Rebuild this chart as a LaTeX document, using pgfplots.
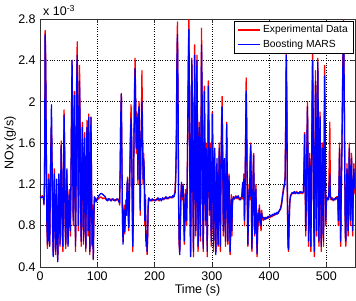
\documentclass[border=0pt]{standalone}
\usepackage{fontspec}
\setmainfont{Liberation Sans}
\usepackage{pgfplots}
\usepackage{pgfplotstable}
\pgfplotsset{compat=1.18}
\pgfplotstableread{
t e m
0 1.08 1.08
2 1.08 1.07
4 1.09 1.08
6 1.07 1.07
7 1.00 1.01
8 1.30 1.25
9 2.69 2.65
10 2.40 2.35
11 1.50 1.55
12 0.80 0.85
13 0.58 0.62
14 0.70 0.66
15 1.30 1.25
16 0.90 0.95
17 0.62 0.60
18 1.10 1.15
19 1.60 1.55
20 1.77 1.97
21 1.40 1.50
22 0.75 0.80
23 0.55 0.50
24 1.00 1.05
25 1.35 1.30
26 0.95 0.90
27 0.52 0.55
28 0.90 0.85
29 1.20 1.25
30 0.70 0.65
31 0.47 0.45
32 0.80 0.85
33 1.25 1.30
34 1.10 1.05
35 0.60 0.62
36 1.00 1.10
37 1.62 1.58
38 1.20 1.25
39 0.70 0.72
40 0.55 0.60
41 1.20 1.15
42 1.92 1.87
43 1.50 1.55
44 0.75 0.80
45 0.58 0.62
46 0.95 0.90
47 1.30 1.35
48 0.85 0.90
49 0.62 0.60
50 0.95 1.00
51 1.15 1.10
52 0.90 0.85
53 0.70 0.75
54 1.10 1.20
55 1.90 1.85
56 2.40 2.40
57 1.50 1.45
58 0.80 0.85
59 1.40 1.35
60 2.10 2.06
61 1.30 1.35
62 0.55 0.60
63 1.20 1.15
64 2.20 2.10
65 2.58 2.45
66 1.60 1.70
67 0.75 0.80
68 1.60 1.55
69 2.35 2.20
70 1.80 1.75
71 0.90 0.95
72 0.60 0.65
73 1.40 1.35
74 1.80 1.75
75 1.20 1.25
76 0.62 0.65
77 1.30 1.35
78 1.70 1.65
79 1.00 1.05
80 0.55 0.58
81 1.20 1.25
82 1.82 1.75
83 1.40 1.45
84 0.70 0.75
85 1.88 1.85
86 1.30 1.35
87 0.52 0.55
88 1.20 1.25
89 1.85 1.85
90 1.20 1.15
91 0.60 0.62
92 1.00 0.95
93 0.47 0.48
94 0.80 0.85
95 1.05 1.08
96 1.03 1.05
97 1.07 1.06
98 1.04 1.03
100 1.05 1.06
102 1.06 1.08
104 1.07 1.10
106 1.08 1.11
108 1.07 1.11
110 1.06 1.10
112 1.07 1.09
114 1.06 1.08
116 1.05 1.05
118 1.06 1.04
120 1.05 1.06
122 1.06 1.05
124 1.04 1.04
126 1.05 1.06
128 1.06 1.05
130 1.05 1.04
132 1.04 1.05
134 1.05 1.06
136 1.06 1.05
138 1.04 1.03
139 1.00 1.02
140 1.30 1.35
141 1.85 1.84
142 2.08 2.07
143 1.40 1.50
144 0.85 0.90
145 0.65 0.62
146 0.80 0.85
147 1.00 0.95
148 0.72 0.74
149 0.90 0.95
150 1.05 1.00
151 0.95 0.90
152 1.15 1.20
153 1.27 1.25
154 0.90 0.95
155 0.75 0.78
156 1.00 1.05
157 1.40 1.35
158 1.70 1.65
159 1.97 1.84
160 1.60 1.65
161 1.00 1.10
162 0.55 0.60
163 0.90 0.95
164 1.60 1.55
165 2.10 2.05
166 2.42 2.32
167 2.00 2.00
168 1.50 1.55
169 1.90 1.85
170 1.75 1.80
171 1.20 1.25
172 1.85 1.90
173 2.00 1.95
174 1.40 1.45
175 0.90 0.95
176 1.50 1.55
177 1.80 1.70
178 2.30 2.00
179 1.70 1.65
180 1.20 1.25
181 1.50 1.45
182 1.30 1.35
183 0.80 0.85
184 1.10 1.05
185 0.60 0.65
186 0.75 0.70
187 0.52 0.55
188 0.70 0.72
189 1.00 1.05
190 1.05 1.07
192 1.04 1.05
194 1.05 1.04
196 1.04 1.06
198 1.05 1.05
200 1.05 1.04
202 1.04 1.05
204 1.06 1.05
206 1.05 1.07
208 1.04 1.05
210 1.06 1.06
212 1.05 1.04
214 1.06 1.07
216 1.05 1.06
218 1.07 1.06
220 1.06 1.08
222 1.07 1.06
224 1.06 1.07
226 1.08 1.07
228 1.07 1.08
230 1.08 1.07
232 1.07 1.09
234 1.09 1.08
236 1.15 1.12
237 1.30 1.25
238 1.60 1.55
239 2.40 2.30
240 2.77 2.65
241 2.00 2.10
242 1.00 1.10
243 0.60 0.65
244 0.55 0.52
245 0.80 0.75
246 1.10 1.05
247 1.20 1.22
248 1.10 1.15
249 1.05 1.08
250 1.20 1.18
251 0.90 0.95
252 0.62 0.65
253 0.90 0.85
254 1.15 1.10
255 1.05 1.08
256 0.80 0.85
257 1.20 1.15
258 1.80 1.75
259 2.40 2.35
260 2.80 2.70
261 1.90 2.00
262 0.90 1.00
263 0.55 0.50
264 1.30 1.25
265 2.42 2.40
266 2.00 2.05
267 1.00 1.10
268 0.50 0.55
269 1.40 1.35
270 2.55 2.45
271 1.80 1.85
272 0.70 0.75
273 1.20 1.25
274 2.45 2.40
275 1.60 1.70
276 0.55 0.60
277 1.00 1.05
278 1.80 1.75
279 1.30 1.35
280 0.65 0.70
281 1.50 1.45
282 2.71 2.55
283 2.00 2.10
284 1.00 1.05
285 0.55 0.58
286 1.30 1.25
287 2.15 2.10
288 1.50 1.55
289 0.80 0.85
290 1.60 1.55
291 1.20 1.25
292 0.50 0.55
293 1.40 1.35
294 2.20 2.15
295 1.70 1.75
296 0.90 0.95
297 1.60 1.55
298 1.20 1.25
299 0.60 0.65
300 1.30 1.25
301 1.90 1.88
302 1.30 1.35
303 0.55 0.60
304 1.20 1.15
305 1.50 1.55
306 0.90 0.95
307 0.55 0.52
308 1.10 1.05
309 1.40 1.45
310 0.80 0.85
311 0.60 0.62
312 1.20 1.15
313 1.60 1.55
314 1.00 1.05
315 0.55 0.60
316 1.30 1.25
317 1.80 1.75
318 2.05 1.95
319 1.40 1.50
320 0.70 0.75
321 1.10 1.05
322 1.40 1.45
323 0.90 0.95
324 0.60 0.65
325 1.30 1.25
326 1.80 1.78
327 1.20 1.25
328 0.62 0.65
329 1.00 1.05
330 1.30 1.28
331 0.90 0.95
332 0.52 0.55
333 0.80 0.85
334 1.10 1.05
335 0.70 0.75
336 1.00 1.05
337 1.08 1.06
338 1.05 1.08
340 1.07 1.06
342 1.09 1.08
344 1.06 1.07
346 1.08 1.09
348 1.05 1.06
350 1.07 1.05
352 1.06 1.08
353 1.15 1.12
354 1.20 1.22
355 1.05 1.08
356 1.30 1.25
357 0.80 0.85
358 1.10 1.15
359 1.60 1.65
360 2.23 2.10
361 1.70 1.75
362 1.00 1.05
363 0.60 0.62
364 0.90 0.95
365 1.20 1.15
366 1.05 1.08
367 1.40 1.45
368 1.60 1.58
369 1.10 1.15
370 0.55 0.58
371 0.80 0.85
372 1.30 1.25
373 1.50 1.48
374 1.00 1.05
375 0.70 0.72
376 0.90 0.95
377 1.20 1.15
378 0.80 0.85
379 0.50 0.53
380 0.75 0.78
381 0.95 0.92
382 0.80 0.85
383 1.00 0.97
384 0.88 0.90
386 0.75 0.80
387 0.95 0.92
388 0.90 0.88
390 0.85 0.88
392 0.88 0.86
394 0.86 0.88
396 0.88 0.87
398 0.87 0.89
400 0.89 0.88
402 0.88 0.90
404 0.90 0.89
406 0.89 0.91
408 0.91 0.90
410 0.90 0.92
412 0.92 0.91
414 0.91 0.93
416 0.93 0.92
418 0.94 0.95
420 0.97 0.96
422 1.03 1.01
424 1.12 1.10
426 1.20 1.17
427 1.18 1.20
428 1.30 1.25
429 1.80 1.75
430 2.48 2.45
431 1.90 2.00
432 1.00 1.10
433 0.60 0.62
434 0.55 0.57
435 0.80 0.82
436 1.00 1.02
437 1.08 1.07
438 1.10 1.09
440 1.11 1.12
442 1.12 1.11
444 1.11 1.13
446 1.12 1.11
448 1.13 1.12
450 1.11 1.12
452 1.12 1.11
454 1.11 1.13
456 1.13 1.12
458 1.11 1.12
460 1.12 1.13
461 1.40 1.35
462 1.70 1.68
463 1.20 1.25
464 0.70 0.75
465 1.00 1.05
466 1.60 1.55
467 2.00 1.95
468 1.40 1.45
469 0.60 0.65
470 0.90 0.95
471 1.50 1.45
472 1.00 1.05
473 0.55 0.60
474 1.20 1.15
475 2.00 1.90
476 2.56 2.40
477 1.80 1.85
478 0.80 0.85
479 0.50 0.55
480 1.30 1.25
481 2.30 2.20
482 1.60 1.65
483 0.70 0.75
484 1.40 1.35
485 2.42 2.38
486 1.70 1.75
487 0.60 0.65
488 1.20 1.15
489 1.90 1.85
490 1.30 1.35
491 0.55 0.60
492 1.10 1.05
493 1.60 1.55
494 1.00 1.05
495 0.60 0.65
496 1.50 1.45
497 2.35 2.25
498 1.60 1.70
499 0.80 0.85
500 1.00 1.05
501 1.08 1.06
502 1.05 1.07
504 1.07 1.05
505 1.40 1.20
506 1.80 1.30
507 1.10 1.08
508 1.05 1.07
510 1.07 1.05
512 1.04 1.06
514 1.06 1.05
516 1.05 1.07
518 1.08 1.06
520 1.06 1.08
521 0.80 0.85
522 1.20 1.15
523 1.60 1.55
524 1.00 1.05
525 0.60 0.65
526 1.10 1.15
527 1.50 1.45
528 2.00 1.95
529 2.50 2.40
530 2.79 2.70
531 2.20 2.25
532 1.40 1.50
533 0.70 0.75
534 0.60 0.65
535 1.00 1.05
536 1.40 1.35
537 1.10 1.15
538 0.70 0.75
539 1.20 1.15
540 1.60 1.55
541 1.20 1.25
542 0.80 0.85
543 1.30 1.25
544 1.50 1.45
545 1.00 1.05
546 0.70 0.75
547 1.10 1.15
548 1.40 1.35
549 1.20 1.25
550 1.10 1.15
}\noxdata

\begin{document}
\fontsize{12.5}{15}\selectfont
\begin{tikzpicture}
\path[use as bounding box] (-40pt,-33pt) rectangle (316pt,267pt);
\begin{axis}[
  name=ax,
  at={(0,0)}, anchor=south west,
  scale only axis, width=315pt, height=248pt,
  xmin=0, xmax=550, ymin=0.4, ymax=2.8,
  xtick={0,100,200,300,400,500},
  xticklabels={0,100,200,300,400,500},
  ytick={0.4,0.8,1.2,1.6,2,2.4,2.8},
  yticklabels={0.4,0.8,1.2,1.6,2,2.4,2.8},
  tick align=inside, major tick length=4pt,
  grid=major, grid style={black, dotted, line width=0.5pt},
  axis line style={black!80, line width=0.6pt},
  tick style={black!80, line width=0.5pt},
  ticklabel style={font=\fontsize{12.5}{15}\selectfont},
  xlabel={Time (s)}, ylabel={NOx (g/s)},
  label style={font=\fontsize{12.5}{15}\selectfont},
  xlabel style={at={(axis description cs:0.5,-0.093)}, anchor=center},
  ylabel style={at={(axis description cs:-0.095,0.5)}, anchor=center},
  legend style={at={(axis description cs:0.994,0.992)}, anchor=north east,
    font=\fontsize{10.3}{12}\selectfont, draw=black, line width=0.6pt, fill=white,
    inner xsep=3pt, inner ysep=2pt, row sep=1.5pt},
  legend cell align=left,
  legend image code/.code={\draw[#1] (0pt,0pt) -- (22pt,0pt);},
]
\addplot[red, line width=1.3pt, line join=round] table[x=t, y=e] {\noxdata};
\addlegendentry{Experimental Data}
\addplot[blue, line width=1.3pt, line join=round] table[x=t, y=m] {\noxdata};
\addlegendentry{Boosting MARS}
\end{axis}
\node[anchor=base west, inner sep=0pt, xshift=3pt, yshift=3pt] at (ax.north west) {x 10\textsuperscript{-3}};
\end{tikzpicture}
\end{document}
